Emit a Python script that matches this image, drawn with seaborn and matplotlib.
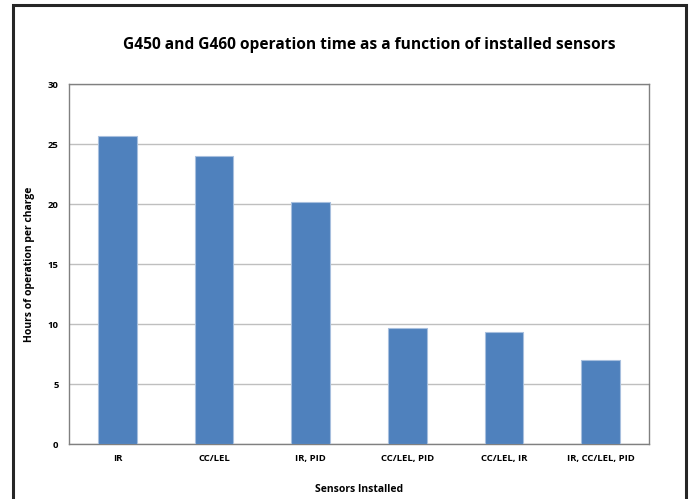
import pandas as pd
import matplotlib.pyplot as plt
import seaborn as sns
from matplotlib.patches import Rectangle

# data
sensors = ['IR', 'CC/LEL', 'IR, PID', 'CC/LEL, PID', 'CC/LEL, IR', 'IR, CC/LEL, PID']
hours = [25.7, 24.0, 20.2, 9.7, 9.35, 7.0]
y_ticks = [0, 5, 10, 15, 20, 25, 30]

df = pd.DataFrame({'sensors': sensors, 'hours': hours})

sns.set_style('white')
plt.rcParams['font.family'] = ['Open Sans', 'DejaVu Sans']
plt.rcParams['text.color'] = 'black'
plt.rcParams['axes.labelcolor'] = 'black'
plt.rcParams['xtick.color'] = 'black'
plt.rcParams['ytick.color'] = 'black'

fig = plt.figure(figsize=(6.91, 4.99), dpi=100)
W, H = 691, 499
ax = fig.add_axes([69 / W, 1 - 444 / H, 580 / W, 360 / H])

sns.barplot(data=df, x='sensors', y='hours', color='#4F81BD', saturation=1,
            width=0.4, edgecolor='#A7BFDE', linewidth=0.8, ax=ax, zorder=3)

ax.set_ylim(0, 30)
ax.set_yticks(y_ticks)
ax.set_xlim(-0.5, len(sensors) - 0.5)
ax.yaxis.grid(True, color='#BFBFBF', linewidth=1, zorder=0)
ax.set_axisbelow(True)
for s in ax.spines.values():
    s.set_visible(True)
    s.set_color('#808080')
    s.set_linewidth(1)
ax.tick_params(axis='both', length=0, labelsize=6.8)
ax.tick_params(axis='y', pad=7.5)
ax.tick_params(axis='x', pad=7.5)
for lbl in ax.get_xticklabels() + ax.get_yticklabels():
    lbl.set_fontweight('bold')

ax.set_xlabel('Sensors Installed', fontsize=7.5, fontweight='bold')
ax.set_ylabel('Hours of operation per charge', fontsize=7.5, fontweight='bold')
ax.xaxis.set_label_coords(0.5, -0.111)
ax.yaxis.set_label_coords(-0.058, 0.5)

fig.text(369 / W, 1 - 45 / H, 'G450 and G460 operation time as a function of installed sensors',
         ha='center', va='center', fontsize=11.2, fontweight='bold')

# chart frame
fig.patches.append(Rectangle((13 / W, -0.05), (686 - 13) / W, 1.05 - 5 / H,
                             transform=fig.transFigure, fill=False,
                             edgecolor='#262626', linewidth=2.2))

fig.savefig('out.png', dpi=100)
